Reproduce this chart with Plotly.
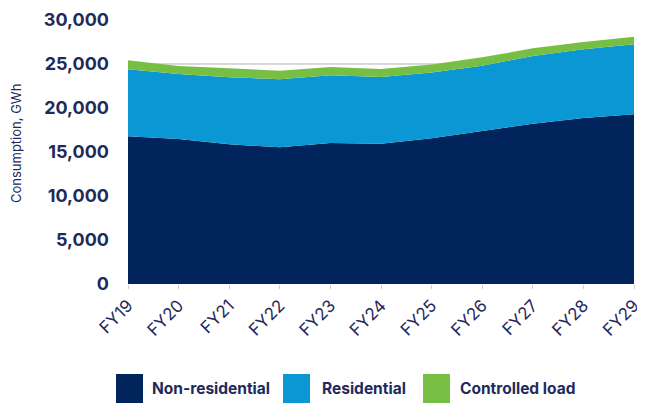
import plotly.graph_objects as go

# ---- data ----
years = ["FY19", "FY20", "FY21", "FY22", "FY23", "FY24", "FY25", "FY26", "FY27", "FY28", "FY29"]
non_residential = [16800, 16480, 15880, 15530, 16020, 15940, 16550, 17390, 18220, 18860, 19280]
residential = [7610, 7380, 7610, 7730, 7700, 7580, 7470, 7420, 7690, 7810, 7960]
controlled_load = [1020, 910, 1020, 980, 940, 910, 910, 950, 870, 830, 870]
series_names = ["Non-residential", "Residential", "Controlled load"]
series_colors = ["#01245c", "#0a97d3", "#77bf44"]
y_ticks = [0, 5000, 10000, 15000, 20000, 25000, 30000]
y_title = "Consumption, GWh"

OFF = 8  # page body margin
W, H = 645 - OFF, 403 - OFF
ML, MR, MT, MB = 128 - OFF, 11, 20 - OFF, 119
PW, PH = W - ML - MR, H - MT - MB
TEXT = "#1f2a5c"
FONT = "Inter"


def px_x(px):
    # page pixel -> paper x
    return (px - OFF - ML) / PW


def px_y(py):
    # page pixel -> paper y
    return (H - MB - (py - OFF)) / PH


fig = go.Figure()
for name, vals, col in zip(series_names, [non_residential, residential, controlled_load], series_colors):
    fig.add_trace(go.Scatter(
        x=years, y=vals, name=name, mode="lines", stackgroup="one",
        line=dict(width=0, color=col), fillcolor=col, showlegend=False,
        hoverinfo="x+y+name",
    ))

# manual legend (large square swatches)
legend_pos = [(116, 150), (283, 320), (423, 458)]
shapes = []
annotations = []
for (sx, tx), name, col in zip(legend_pos, series_names, series_colors):
    shapes.append(dict(type="rect", xref="paper", yref="paper",
                       x0=px_x(sx), x1=px_x(sx + 27), y0=px_y(374), y1=px_y(403),
                       fillcolor=col, line=dict(width=0)))
    annotations.append(dict(xref="paper", yref="paper", x=px_x(tx), y=px_y(388),
                            xanchor="left", yanchor="middle", showarrow=False,
                            text=name, font=dict(family=FONT, size=15.5, color=TEXT, weight=700)))

annotations.append(dict(xref="paper", yref="paper", x=px_x(16), y=px_y(144),
                        xanchor="center", yanchor="middle", showarrow=False, textangle=-90,
                        text=y_title, font=dict(family=FONT, size=13, color=TEXT)))

fig.update_layout(
    width=W, height=H,
    margin=dict(l=ML, r=MR, t=MT, b=MB, autoexpand=False),
    paper_bgcolor="white", plot_bgcolor="white",
    showlegend=False,
    shapes=shapes, annotations=annotations,
    font=dict(family=FONT, color=TEXT),
)
fig.update_xaxes(
    type="category", range=[0, len(years) - 1],
    tickangle=-45, tickfont=dict(family=FONT, size=17, color=TEXT, weight=400),
    ticks="outside", ticklen=4, tickcolor="#d0d0d0", tickwidth=1,
    showgrid=False, showline=False, zeroline=False,
)
fig.update_yaxes(
    range=[0, 30000], tickvals=y_ticks, tickformat=",d",
    tickfont=dict(family=FONT, size=18, color=TEXT, weight=700),
    ticklabelstandoff=18,
    showgrid=True, gridcolor="#d9d9d9", gridwidth=1.5,
    zeroline=False, showline=False,
)

fig.write_html("out.html")
